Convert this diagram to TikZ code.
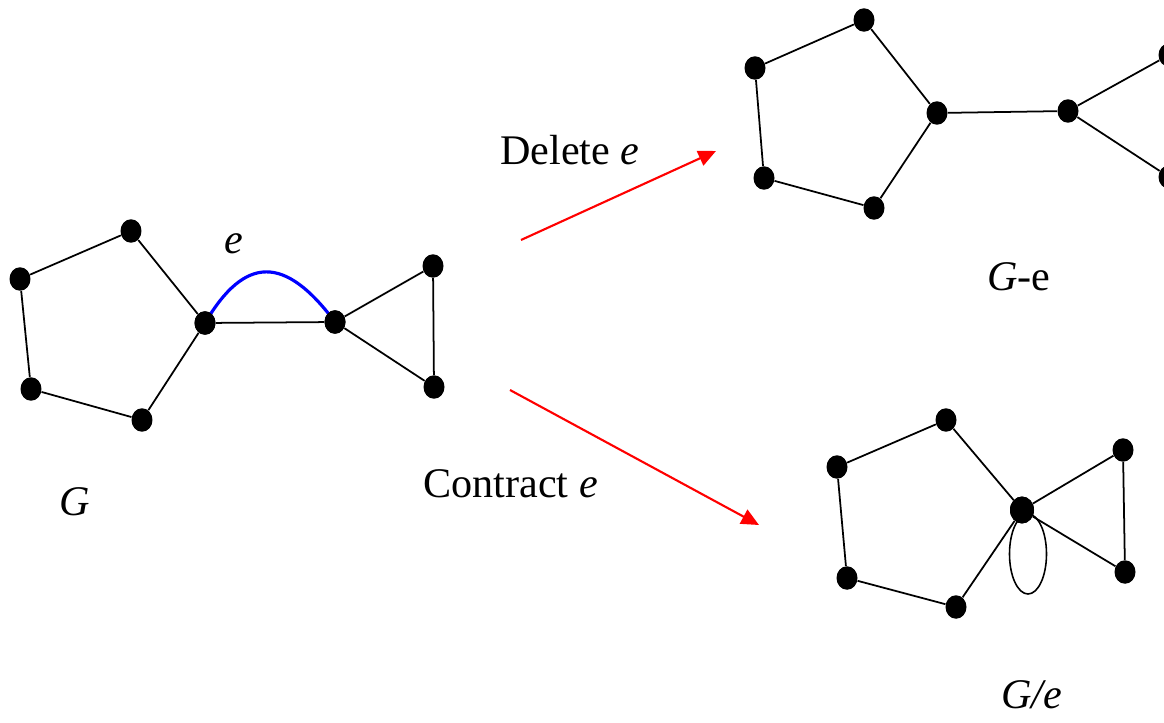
\documentclass[tikz,border=0pt]{standalone}
\usepackage{fontspec}
\setmainfont{Liberation Serif}
\usetikzlibrary{shapes.geometric,arrows.meta}
\begin{document}
\begin{tikzpicture}[x=0.02cm,y=-0.02cm,
  vertex/.style={ellipse,fill=black,inner sep=0pt,minimum width=0.42cm,minimum height=0.47cm},
  bigvertex/.style={vertex,minimum width=0.48cm,minimum height=0.54cm},
  edge/.style={draw=black,line width=1pt},
  opbar/.style={draw=red,line width=1.2pt,-{Triangle[length=10pt,width=9pt]}},
  lbl/.style={anchor=base west,inner sep=0pt,font=\fontsize{24}{28}\selectfont}]
\useasboundingbox (0,0) rectangle (1164,723);

% ---- G ----
\node[vertex] (a1) at (20,279) {};
\node[vertex] (a2) at (131,231) {};
\node[vertex] (a3) at (205,323) {};
\node[vertex] (a4) at (142,420) {};
\node[vertex] (a5) at (31,389) {};
\node[vertex] (a6) at (335,322) {};
\node[vertex] (a7) at (433,266) {};
\node[vertex] (a8) at (434,387) {};
\draw[edge] (a1) -- (a2) -- (a3) -- (a4) -- (a5) -- (a1);
\draw[edge] (a3) -- (a6) -- (a7) -- (a8) -- (a6);
\draw[blue,line width=1.8pt] (a3.center) .. controls (245,255) and (285,255) .. (a6.center);
\node[vertex] at (a3) {};
\node[vertex] at (a6) {};
\node[lbl] (le) at (224,254) {\itshape e};
\node[lbl] (lG) at (59,515) {\itshape G};

% ---- G - e ----
\node[vertex] (b1) at (755,68) {};
\node[vertex] (b2) at (864,20) {};
\node[vertex] (b3) at (937,113) {};
\node[vertex] (b4) at (874,208) {};
\node[vertex] (b5) at (764,178) {};
\node[vertex] (b6) at (1068,111) {};
\node[vertex] (b7) at (1169,55) {};
\node[vertex] (b8) at (1169,177) {};
\draw[edge] (b1) -- (b2) -- (b3) -- (b4) -- (b5) -- (b1);
\draw[edge] (b3) -- (b6) -- (b7);
\draw[edge] (b6) -- (b8);
\node[lbl] (lGe) at (987,290) {\itshape G\upshape -e};

% ---- G / e ----
\node[vertex] (c1) at (837,467) {};
\node[vertex] (c2) at (946,420) {};
\node[bigvertex] (c3) at (1022,510) {};
\node[vertex] (c4) at (956,607) {};
\node[vertex] (c5) at (847,578) {};
\node[vertex] (c6) at (1123,450) {};
\node[vertex] (c7) at (1125,572) {};
\draw[edge] (c1) -- (c2) -- (c3) -- (c4) -- (c5) -- (c1);
\draw[edge] (c3) -- (c6) -- (c7) -- (c3);
\draw[line width=0.9pt] (1028,554) ellipse [x radius=18.5,y radius=40];
\node[bigvertex] at (c3) {};
\node[lbl] (lGc) at (1001,708) {\itshape G/e};

% ---- operations ----
\coordinate (d0) at (521,240);
\coordinate (d1) at (716,151);
\coordinate (k0) at (510,390);
\coordinate (k1) at (759,525);
\draw[opbar] (d0) -- (d1);
\draw[opbar] (k0) -- (k1);
\node[lbl] (ldel) at (500,165) {Delete \itshape e};
\node[lbl] (lcon) at (423,497) {Contract \itshape e};
\end{tikzpicture}
\end{document}
